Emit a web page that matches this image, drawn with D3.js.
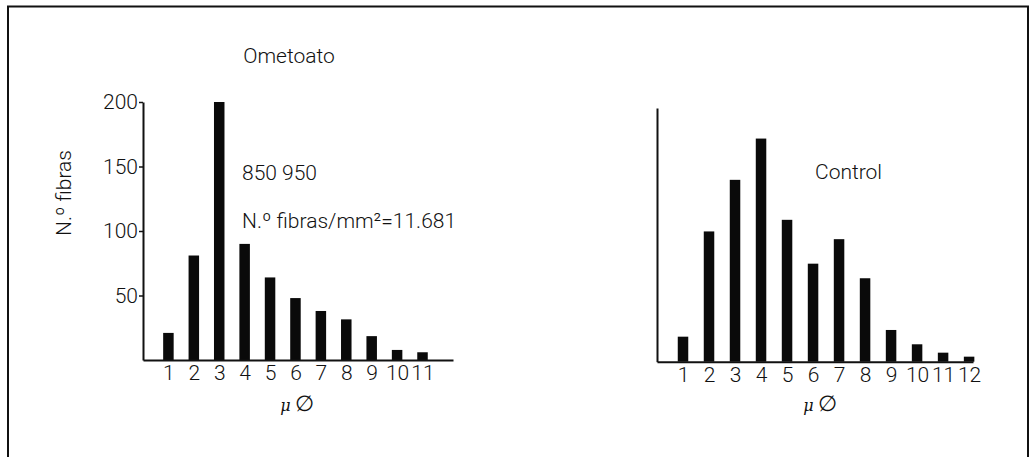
<!DOCTYPE html>
<html>
<head>
<meta charset="utf-8">
<script src="https://cdn.jsdelivr.net/npm/d3@7"></script>
<style>
  html, body { margin: 0; padding: 0; background: #fff; }
  svg { display: block; }
  text { font-family: "Roboto", "Liberation Sans", sans-serif; font-weight: 300; fill: #111; }
</style>
</head>
<body>
<svg id="chart" width="1033" height="457"></svg>
<script>
// ---- data ----
const ometoatoCategories = [1, 2, 3, 4, 5, 6, 7, 8, 9, 10, 11];
const ometoatoValues = [21, 81, 200, 90, 64, 48, 38, 31.5, 18.5, 7.8, 6];
const controlCategories = [1, 2, 3, 4, 5, 6, 7, 8, 9, 10, 11, 12];
const controlValues = [19.4, 101, 141, 173, 110, 76, 95, 64.7, 24.6, 13.5, 7, 3.9];
const yTickValues = [50, 100, 150, 200];
const leftTitle = "Ometoato";
const rightTitle = "Control";
const yLabel = "N.º fibras";
const noteLine1 = "850 950";
const noteLine2 = "N.º fibras/mm²=11.681";

const FS = 21;
const svg = d3.select("#chart");

// frame
svg.append("path")
  .attr("d", "M8,457 V6.5 H1028 V457")
  .attr("fill", "none").attr("stroke", "#111").attr("stroke-width", 2);

function panel(opts) {
  const g = svg.append("g");
  const x = d3.scaleLinear().domain([0, opts.xMax]).range(opts.xRange);
  const y = d3.scaleLinear().domain([0, opts.yMax]).range(opts.yRange);

  // bars
  g.selectAll("rect.bar").data(opts.values).enter().append("rect")
    .attr("class", "bar")
    .attr("x", (d, i) => x(opts.cats[i]) - opts.barW / 2)
    .attr("width", opts.barW)
    .attr("y", d => y(d))
    .attr("height", d => y(0) - y(d))
    .attr("fill", "#0a0a0a");

  // y axis
  const ya = d3.axisLeft(y).tickValues(opts.yTicks).tickSize(4).tickSizeOuter(0).tickPadding(1);
  const yg = g.append("g").attr("transform", `translate(${x(0)},0)`).call(ya);
  yg.select(".domain").attr("stroke", "#111").attr("stroke-width", 2);
  yg.selectAll(".tick line").attr("stroke", "#111").attr("stroke-width", 1.5);
  yg.selectAll(".tick text").attr("font-size", FS).attr("fill", "#111")
    .style("font-family", '"Roboto","Liberation Sans",sans-serif').style("font-weight", 300);

  // x axis
  const xa = d3.axisBottom(x).tickValues(opts.cats).tickSize(0).tickSizeOuter(0).tickPadding(opts.xPad);
  const xg = g.append("g").attr("transform", `translate(0,${y(0)})`).call(xa);
  xg.select(".domain").attr("stroke", "#111").attr("stroke-width", 2);
  xg.selectAll(".tick text").attr("font-size", FS).attr("fill", "#111")
    .style("font-family", '"Roboto","Liberation Sans",sans-serif').style("font-weight", 300);

  // axis title  μ ∅
  const t = g.append("text").attr("x", opts.muX).attr("y", 411).attr("text-anchor", "middle");
  t.append("tspan").text("μ").attr("font-size", 16).attr("font-style", "italic")
    .style("font-family", '"DejaVu Serif",serif');
  t.append("tspan").text("∅").attr("dx", 4).attr("font-size", 22).style("font-family", '"DejaVu Sans",sans-serif')
    .style("font-weight", 200);
  return { x, y };
}

panel({
  cats: ometoatoCategories, values: ometoatoValues,
  xMax: 12.2, xRange: [143, 453],
  yMax: 200, yRange: [360, 102],
  yTicks: yTickValues, barW: 10.5, xPad: 5, muX: 297
});

panel({
  cats: controlCategories, values: controlValues,
  xMax: 12.15, xRange: [657, 973],
  yMax: 196.7, yRange: [361.7, 108],
  yTicks: [], barW: 10.5, xPad: 5, muX: 820
});

// texts
svg.append("text").attr("x", 289).attr("y", 63).attr("text-anchor", "middle")
  .attr("font-size", FS).text(leftTitle);
svg.append("text").attr("transform", "translate(71,193) rotate(-90)").attr("text-anchor", "middle")
  .attr("font-size", FS).text(yLabel);
svg.append("text").attr("x", 242).attr("y", 180).attr("font-size", FS).text(noteLine1);
svg.append("text").attr("x", 242).attr("y", 228).attr("font-size", FS).text(noteLine2);
svg.append("text").attr("x", 815).attr("y", 179).attr("font-size", FS).text(rightTitle);
</script>
</body>
</html>
